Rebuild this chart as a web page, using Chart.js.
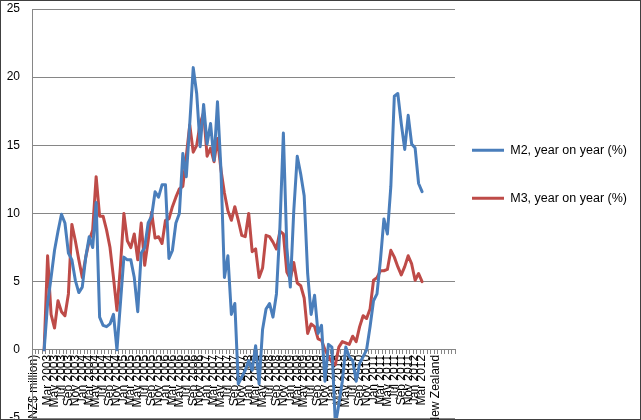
<!DOCTYPE html>
<html>
<head>
<meta charset="utf-8">
<script src="https://cdn.jsdelivr.net/npm/chart.js@4.4.1/dist/chart.umd.min.js"></script>
<style>
  html, body { margin: 0; padding: 0; background: #fff; }
  #frame { position: relative; width: 641px; height: 420px; overflow: hidden; background: #fff; }
  #wrap { position: absolute; left: 0; top: 0; width: 641px; height: 440px; }
  #border { position: absolute; left: 0; top: 0; width: 641px; height: 420px; box-sizing: border-box; border: 1px solid #404040; pointer-events: none; }
</style>
</head>
<body>
<div id="frame">
  <div id="wrap"><canvas id="c" width="641" height="440"></canvas></div>
  <div id="border"></div>
</div>
<script>
// Category labels (one per row of the source table)
const categories = [
  "(NZ$ million)", "", "", "Feb 2003",
  "Mar 2003","Apr 2003","May 2003","Jun 2003","Jul 2003","Aug 2003","Sep 2003","Oct 2003","Nov 2003","Dec 2003",
  "Jan 2004","Feb 2004","Mar 2004","Apr 2004","May 2004","Jun 2004","Jul 2004","Aug 2004","Sep 2004","Oct 2004","Nov 2004","Dec 2004",
  "Jan 2005","Feb 2005","Mar 2005","Apr 2005","May 2005","Jun 2005","Jul 2005","Aug 2005","Sep 2005","Oct 2005","Nov 2005","Dec 2005",
  "Jan 2006","Feb 2006","Mar 2006","Apr 2006","May 2006","Jun 2006","Jul 2006","Aug 2006","Sep 2006","Oct 2006","Nov 2006","Dec 2006",
  "Jan 2007","Feb 2007","Mar 2007","Apr 2007","May 2007","Jun 2007","Jul 2007","Aug 2007","Sep 2007","Oct 2007","Nov 2007","Dec 2007",
  "Jan 2008","Feb 2008","Mar 2008","Apr 2008","May 2008","Jun 2008","Jul 2008","Aug 2008","Sep 2008","Oct 2008","Nov 2008","Dec 2008",
  "Jan 2009","Feb 2009","Mar 2009","Apr 2009","May 2009","Jun 2009","Jul 2009","Aug 2009","Sep 2009","Oct 2009","Nov 2009","Dec 2009",
  "Jan 2010","Feb 2010","Mar 2010","Apr 2010","May 2010","Jun 2010","Jul 2010","Aug 2010","Sep 2010","Oct 2010","Nov 2010","Dec 2010",
  "Jan 2011","Feb 2011","Mar 2011","Apr 2011","May 2011","Jun 2011","Jul 2011","Aug 2011","Sep 2011","Oct 2011","Nov 2011","Dec 2011",
  "Jan 2012","Feb 2012","Mar 2012",
  "", "", "", "Source: Reserve Bank of New Zealand", "", "", "", "", ""
];

// M2, year on year (%)
const m2 = [
  null, null, null, 0,
  3.4, 5.3, 7.3, 8.7, 9.95, 9.3, 7.1, 6.6, 5.1, 4.2,
  4.6, 6.8, 8.3, 7.5, 10.8, 2.4, 1.8, 1.7, 1.9, 2.6, 0, 3.4,
  6.8, 6.6, 6.6, 5.3, 2.8, 7.1, 7.5, 9.3, 9.8, 11.6, 11.2, 12.1,
  12.1, 6.7, 7.3, 9.3, 10.0, 14.4, 12.7, 16.6, 20.7, 18.8, 14.9, 18.0,
  15.1, 16.6, 13.9, 18.2, 13.2, 5.3, 6.9, 2.6, 3.4, -2.5, -2.0, -1.5,
  -0.8, -1.5, 0.3, -2.5, 1.5, 3.0, 3.4, 2.4, 4.1, 9.0, 15.9, 7.5,
  4.6, 10.2, 14.2, 12.9, 11.3, 5.6, 2.6, 4.0, 1.2, 1.8, -2.3, 0.4,
  0.2, -5.5, -4.0, -2.3, 0.2, -0.5, -0.8, -2.3, -1.0, -0.5, 0.0, 1.7,
  3.6, 4.1, 6.6, 9.6, 8.5, 12.0, 18.6, 18.8, 16.6, 14.7, 17.2, 15.1,
  14.8, 12.2, 11.6,
  null, null, null, null, null, null, null, null, null
];

// M3, year on year (%)
const m3 = [
  null, null, null, 0,
  6.9, 2.6, 1.6, 3.6, 2.8, 2.5, 4.1, 9.2, 8.0, 6.6,
  5.3, 6.8, 8.0, 8.8, 12.7, 9.8, 9.8, 8.8, 7.5, 5.3, 2.9, 6.1,
  10.0, 8.0, 7.5, 8.5, 6.6, 9.3, 6.2, 8.0, 10.1, 8.2, 8.3, 7.8,
  9.5, 9.6, 10.5, 11.2, 11.8, 12.0, 14.2, 16.5, 14.5, 15.0, 16.6, 17.4,
  14.2, 14.8, 13.8, 15.5, 13.2, 11.5, 10.2, 9.5, 10.5, 9.5, 8.4, 8.3,
  10.0, 7.2, 7.4, 5.3, 6.0, 8.4, 8.3, 7.9, 7.4, 8.7, 8.5, 5.7,
  5.2, 6.4, 4.9, 4.7, 3.8, 1.2, 1.9, 1.7, 0.8, 0.7, 0.0, -0.5,
  -0.9, -1.1, 0.2, 0.6, 0.5, 0.4, 1.0, 0.6, 1.7, 2.5, 2.3, 3.0,
  5.1, 5.3, 5.8, 5.8, 5.9, 7.3, 6.8, 6.1, 5.5, 6.1, 6.9, 6.3,
  5.1, 5.6, 5.0,
  null, null, null, null, null, null, null, null, null
];

const seriesNames = ["M2, year on year (%)", "M3, year on year (%)"];
const seriesColors = ["#4a7ebb", "#be4b48"];
const yTicks = [-5, 0, 5, 10, 15, 20, 25];

const FONT = "'Liberation Sans', Arial, sans-serif";
const GRID = "#868686";
const LEGEND_W = 186;

// keep the legend column a fixed width so the plot ends where Excel's does
const legendWidthPlugin = {
  id: 'legendWidth',
  beforeLayout(chart) {
    const lg = chart.legend;
    if (lg && !lg.__fixedWidth) {
      const orig = lg.fit;
      lg.fit = function () { orig.call(this); this.width = LEGEND_W; };
      lg.__fixedWidth = true;
    }
  }
};

new Chart(document.getElementById('c'), {
  type: 'line',
  data: {
    labels: categories,
    datasets: [
      { label: seriesNames[0], data: m2, borderColor: seriesColors[0], backgroundColor: seriesColors[0] },
      { label: seriesNames[1], data: m3, borderColor: seriesColors[1], backgroundColor: seriesColors[1] }
    ]
  },
  plugins: [legendWidthPlugin],
  options: {
    responsive: false,
    animation: false,
    devicePixelRatio: 1,
    elements: {
      line: { borderWidth: 3, tension: 0, borderJoinStyle: 'round', borderCapStyle: 'round', fill: false },
      point: { radius: 0, hoverRadius: 0 }
    },
    layout: { padding: { top: 9, bottom: 22, left: 0, right: 0 } },
    plugins: {
      tooltip: { enabled: false },
      legend: {
        position: 'right',
        align: 'start',
        title: { display: true, text: ' ', font: { size: 1 }, padding: { top: 116.8, bottom: 0 } },
        labels: {
          usePointStyle: true,
          pointStyleWidth: 32,
          padding: 17,
          color: '#000',
          font: { family: FONT, size: 12.5, lineHeight: 31 / 12.5 },
          generateLabels: (chart) => chart.data.datasets.map((ds, i) => ({
            text: [ds.label],
            strokeStyle: ds.borderColor,
            fillStyle: ds.borderColor,
            lineWidth: 3,
            pointStyle: 'line',
            hidden: false,
            datasetIndex: i,
            fontColor: '#000'
          }))
        }
      }
    },
    scales: {
      x: {
        type: 'category',
        position: { y: 0 },
        offset: true,
        grid: { drawOnChartArea: false, offset: true, tickLength: 4, color: GRID, lineWidth: 1 },
        border: { color: GRID, width: 1 },
        ticks: {
          autoSkip: false,
          minRotation: 90,
          maxRotation: 90,
          padding: 1,
          color: '#000',
          font: { family: FONT, size: 12 },
          callback: (v, i) => (i % 2 === 0 ? categories[i] : '')
        }
      },
      y: {
        min: yTicks[0],
        max: yTicks[yTicks.length - 1],
        afterBuildTicks: (s) => { s.ticks = yTicks.map(v => ({ value: v })); },
        afterFit: (s) => { s.width = 32; },
        grid: { color: GRID, lineWidth: 1, drawTicks: true, tickLength: 12, tickColor: 'rgba(0,0,0,0)' },
        border: { color: GRID, width: 1 },
        ticks: { padding: 0, color: '#000', font: { family: FONT, size: 12 } }
      }
    }
  }
});
</script>
</body>
</html>
